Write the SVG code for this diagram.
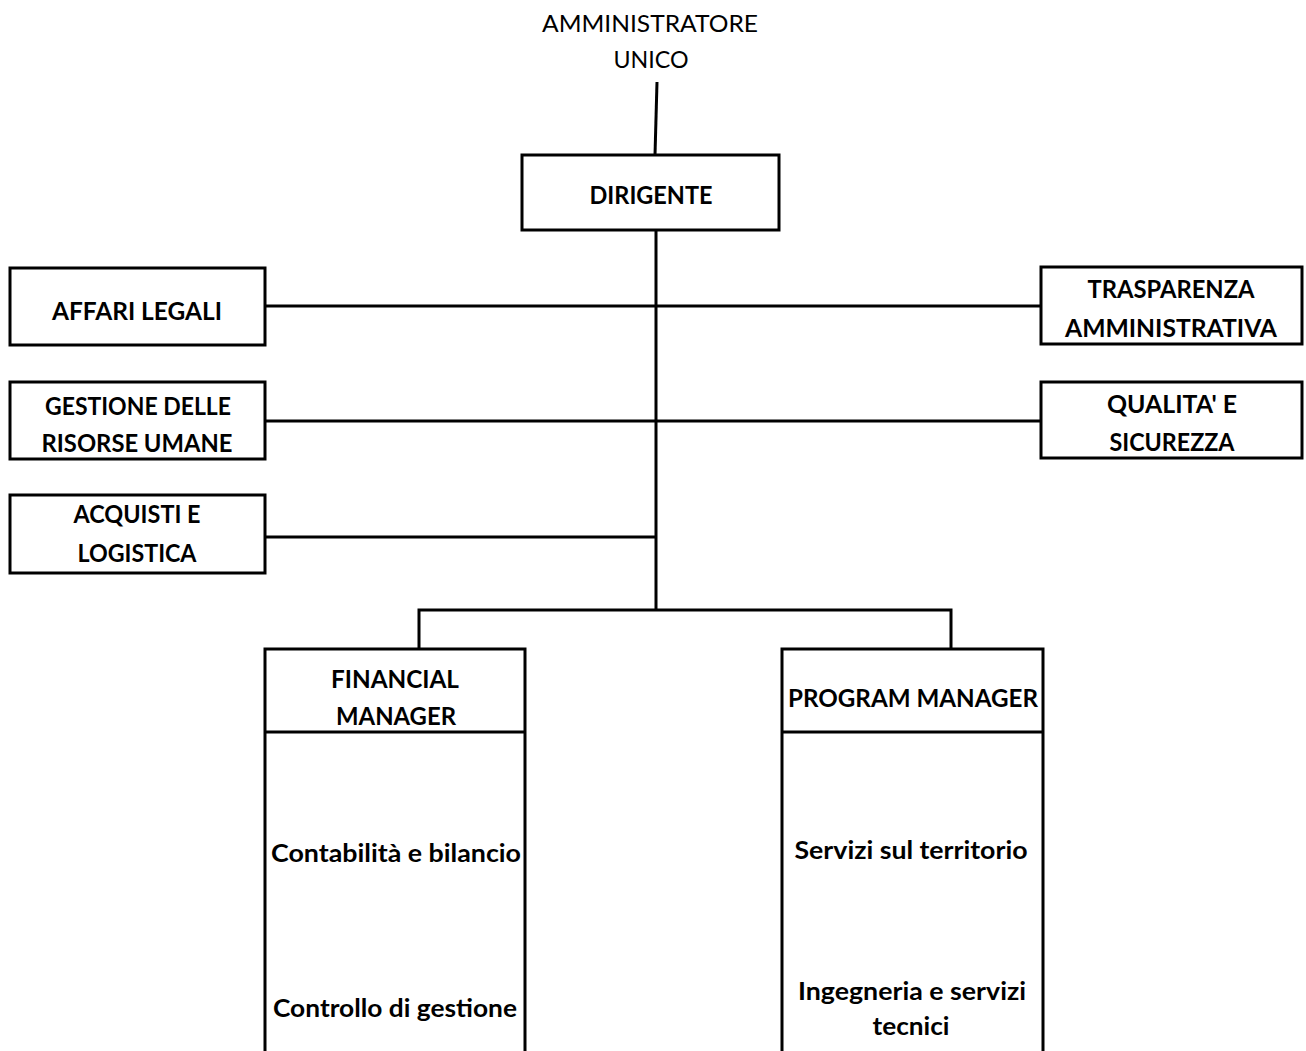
<svg xmlns="http://www.w3.org/2000/svg" width="1306" height="1051" viewBox="0 0 1306 1051">
<style>
  .box { fill: #ffffff; stroke: #000000; stroke-width: 3; }
  .ln { fill: none; stroke: #000000; stroke-width: 3; }
  text { font-family: Lato, "Liberation Sans", sans-serif; font-size: 25px; font-weight: bold; fill: #000000; text-anchor: middle; }
  .title { font-weight: normal; font-size: 24px; }
</style>
<rect width="1306" height="1051" fill="#ffffff"/>
<g id="connectors">
  <path class="ln" d="M657 82 L655 155"/>
  <path class="ln" d="M656 230 L656 610"/>
  <path class="ln" d="M265 306 L1041 306"/>
  <path class="ln" d="M265 421 L1041 421"/>
  <path class="ln" d="M265 537 L656 537"/>
  <path class="ln" d="M419 650 L419 610 L951 610 L951 650"/>
</g>
<g id="amministratore">
  <text class="title" x="650" y="32" textLength="216" lengthAdjust="spacingAndGlyphs">AMMINISTRATORE</text>
  <text class="title" x="651" y="68" textLength="75" lengthAdjust="spacingAndGlyphs">UNICO</text>
</g>
<g id="dirigente">
  <rect class="box" x="522" y="155" width="257" height="75"/>
  <text x="651" y="204" textLength="123" lengthAdjust="spacingAndGlyphs">DIRIGENTE</text>
</g>
<g id="affari-legali">
  <rect class="box" x="10" y="268" width="255" height="77"/>
  <text x="137" y="320" textLength="170" lengthAdjust="spacingAndGlyphs">AFFARI LEGALI</text>
</g>
<g id="gestione-risorse">
  <rect class="box" x="10" y="382" width="255" height="77"/>
  <text x="138" y="415" textLength="186" lengthAdjust="spacingAndGlyphs">GESTIONE DELLE</text>
  <text x="137" y="452" textLength="191" lengthAdjust="spacingAndGlyphs">RISORSE UMANE</text>
</g>
<g id="acquisti">
  <rect class="box" x="10" y="495" width="255" height="78"/>
  <text x="137" y="523" textLength="127" lengthAdjust="spacingAndGlyphs">ACQUISTI E</text>
  <text x="137" y="562" textLength="119" lengthAdjust="spacingAndGlyphs">LOGISTICA</text>
</g>
<g id="trasparenza">
  <rect class="box" x="1041" y="267" width="261" height="77"/>
  <text x="1171" y="298" textLength="167" lengthAdjust="spacingAndGlyphs">TRASPARENZA</text>
  <text x="1171" y="337" textLength="212" lengthAdjust="spacingAndGlyphs">AMMINISTRATIVA</text>
</g>
<g id="qualita">
  <rect class="box" x="1041" y="382" width="261" height="76"/>
  <text x="1172" y="413" textLength="130" lengthAdjust="spacingAndGlyphs">QUALITA' E</text>
  <text x="1172" y="451" textLength="125" lengthAdjust="spacingAndGlyphs">SICUREZZA</text>
</g>
<g id="financial-manager">
  <path class="box" d="M265 1053 L265 649 L525 649 L525 1053"/>
  <path class="ln" d="M265 732 L525 732"/>
  <text x="395" y="688" textLength="128" lengthAdjust="spacingAndGlyphs">FINANCIAL</text>
  <text x="396" y="725" textLength="120" lengthAdjust="spacingAndGlyphs">MANAGER</text>
  <text x="396" y="862" textLength="250" lengthAdjust="spacingAndGlyphs">Contabilità e bilancio</text>
  <text x="395" y="1017" textLength="244" lengthAdjust="spacingAndGlyphs">Controllo di gestione</text>
</g>
<g id="program-manager">
  <path class="box" d="M782 1053 L782 649 L1043 649 L1043 1053"/>
  <path class="ln" d="M782 732 L1043 732"/>
  <text x="913" y="707" textLength="250" lengthAdjust="spacingAndGlyphs">PROGRAM MANAGER</text>
  <text x="911" y="859" textLength="233" lengthAdjust="spacingAndGlyphs">Servizi sul territorio</text>
  <text x="912" y="1000" textLength="228" lengthAdjust="spacingAndGlyphs">Ingegneria e servizi</text>
  <text x="911" y="1035" textLength="77" lengthAdjust="spacingAndGlyphs">tecnici</text>
</g>
</svg>
